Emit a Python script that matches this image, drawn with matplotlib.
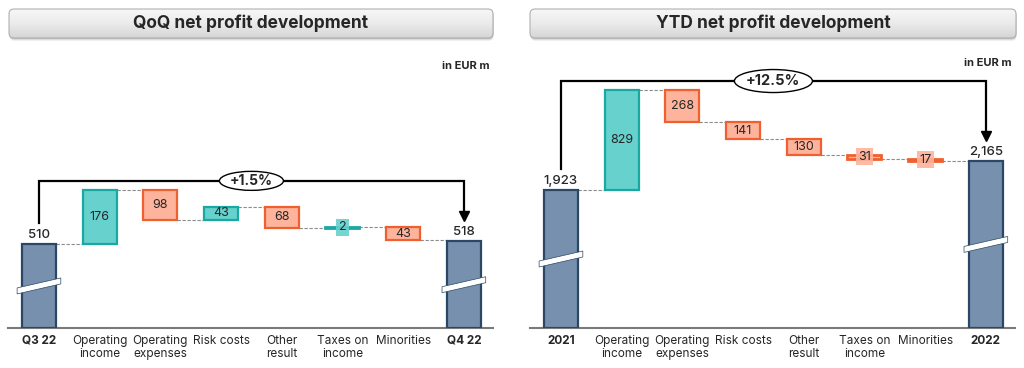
import numpy as np
import matplotlib
matplotlib.use("Agg")
import matplotlib.pyplot as plt
from matplotlib.patches import FancyBboxPatch, Polygon, Ellipse
import matplotlib.transforms as mtransforms

plt.rcParams['font.family'] = ['Inter', 'DejaVu Sans']

# ---------------- data ----------------
qoq_categories = ["Q3 22", "Operating\nincome", "Operating\nexpenses", "Risk costs",
                  "Other\nresult", "Taxes on\nincome", "Minorities", "Q4 22"]
qoq_start = 510
qoq_changes = [176, -98, 43, -68, 2, -43]
qoq_end = 518
qoq_growth = "+1.5%"
qoq_title = "QoQ net profit development"

ytd_categories = ["2021", "Operating\nincome", "Operating\nexpenses", "Risk costs",
                  "Other\nresult", "Taxes on\nincome", "Minorities", "2022"]
ytd_start = 1923
ytd_changes = [829, -268, -141, -130, -31, -17]
ytd_end = 2165
ytd_growth = "+12.5%"
ytd_title = "YTD net profit development"

unit_label = "in EUR m"

# ---------------- style ----------------
TOTAL_FC, TOTAL_EC = "#7690ad", "#2b4766"
POS_FC, POS_EC = "#66d1cd", "#1aa8a2"
NEG_FC, NEG_EC = "#fdb39c", "#f0602e"
TXT = "#262626"

W, H = 1024, 368
fig = plt.figure(figsize=(W / 100, H / 100), dpi=100)
ident = mtransforms.IdentityTransform()


def fmt(v):
    return f"{v:,}"


def title_box(x0, x1, y_top, y_bot, text):
    w, h = x1 - x0, y_bot - y_top
    for off, a in [(3, 0.12), (2, 0.2), (1, 0.3)]:
        sh = FancyBboxPatch((x0 + 0.5, H - y_bot - off), w, h,
                            boxstyle="round,pad=0,rounding_size=5",
                            transform=ident, fc="#8a8a8a", ec="none", alpha=a, zorder=-5)
        fig.patches.append(sh)
    base = FancyBboxPatch((x0, H - y_bot), w, h, boxstyle="round,pad=0,rounding_size=5",
                          transform=ident, fc="#f0f0f0", ec="none", zorder=-4)
    fig.patches.append(base)
    axt = fig.add_axes([x0 / W, 1 - y_bot / H, w / W, h / H])
    axt.set_zorder(1)
    axt.set_axis_off()
    grad = np.linspace(0, 1, 100).reshape(-1, 1)
    cmap = matplotlib.colors.LinearSegmentedColormap.from_list(
        "g", ["#f7f7f7", "#ebebeb", "#d5d5d5"])
    im = axt.imshow(grad, cmap=cmap, aspect="auto", extent=[0, 1, 0, 1], origin="upper",
                    vmin=0, vmax=1)
    axt.set_xlim(0, 1)
    axt.set_ylim(0, 1)
    clip = FancyBboxPatch((x0, H - y_bot), w, h,
                          boxstyle="round,pad=0,rounding_size=5", transform=ident)
    im.set_clip_path(clip)
    edge = FancyBboxPatch((x0, H - y_bot), w, h,
                          boxstyle="round,pad=0,rounding_size=5", transform=ident,
                          fc="none", ec="#b0b0b0", lw=0.8, zorder=5)
    fig.patches.append(edge)
    fig.text((x0 + x1) / 2 / W, 1 - (y_top + y_bot) / 2 / H, text, ha="center", va="center",
             fontsize=12.5, fontweight="bold", color=TXT, zorder=6)


def panel(x0, x1, ylim, cats, start, changes, end, growth, unit_y, gfs, ell_w, ell_h):
    ax = fig.add_axes([x0 / W, (H - 328) / H, (x1 - x0) / W, 268 / H])
    ax.set_xlim(-0.51, 7.48)
    ax.set_ylim(*ylim)
    for s in ["top", "right", "left"]:
        ax.spines[s].set_visible(False)
    ax.spines["bottom"].set_color("#7a7a7a")
    ax.spines["bottom"].set_linewidth(1.5)
    ax.set_yticks([])
    ax.set_xticks(range(len(cats)))
    ax.set_xticklabels(cats, fontsize=8.5, color=TXT, linespacing=1.15)
    ax.tick_params(axis="x", length=0, pad=5)
    for i, lab in enumerate(ax.get_xticklabels()):
        if i in (0, len(cats) - 1):
            lab.set_fontweight("bold")

    fig.canvas.draw()
    bb = ax.get_window_extent()
    ppu = bb.height / (ylim[1] - ylim[0])

    def px(p):
        return p / ppu

    bw = 0.56
    n = len(cats)
    for i, v in [(0, start), (n - 1, end)]:
        ax.bar(i, v - ylim[0], bottom=ylim[0], width=bw, color=TOTAL_FC,
               edgecolor=TOTAL_EC, linewidth=1.6, zorder=3)
        ax.text(i, v + px(3), fmt(v), ha="center", va="bottom", fontsize=9.5,
                color=TXT, fontweight="medium", zorder=6)
        yb = ylim[0] + (v - ylim[0]) * 0.5
        hw = bw / 2 + 0.08
        slope = px(10)
        th = px(6)
        poly = Polygon([[i - hw, yb - slope / 2 - th / 2], [i + hw, yb + slope / 2 - th / 2],
                        [i + hw, yb + slope / 2 + th / 2], [i - hw, yb - slope / 2 + th / 2]],
                       closed=True, fc="white", ec=TOTAL_EC, lw=0.5, zorder=4)
        ax.add_patch(poly)

    level = start
    levels = [start]
    for k, c in enumerate(changes):
        i = k + 1
        lo = min(level, level + c)
        fc, ec = (POS_FC, POS_EC) if c > 0 else (NEG_FC, NEG_EC)
        ax.bar(i, abs(c), bottom=lo, width=bw, color=fc, edgecolor=ec,
               linewidth=1.6 if abs(c) * ppu > 6 else 2.0, zorder=3)
        mid = lo + abs(c) / 2
        if abs(c) * ppu > 8:
            ax.text(i, mid, fmt(abs(c)), ha="center", va="center", fontsize=9,
                    color=TXT, zorder=6)
        else:
            ax.text(i, mid, fmt(abs(c)), ha="center", va="center", fontsize=9,
                    color=TXT, zorder=6,
                    bbox=dict(boxstyle="square,pad=0.2", fc=fc, ec="none", alpha=0.9))
        level += c
        levels.append(level)

    for k in range(n - 1):
        y = levels[k]
        ax.plot([k + bw / 2, k + 1 - bw / 2], [y, y], ls=(0, (3, 1.5)), color="#8c8c8c",
                lw=0.8, zorder=2)

    top = max(levels) + px(9)
    ax.plot([0, 0, n - 1, n - 1], [start + px(21), top, top, end + px(25)],
            color="black", lw=1.6, zorder=5, clip_on=False, solid_joinstyle="miter")
    ax.plot([n - 1], [end + px(25)], marker="v", ms=6.5, color="black", zorder=5,
            clip_on=False)
    cx, cy = ax.transData.transform(((n - 1) / 2, top))
    ell = Ellipse((0, 0), ell_w, ell_h, transform=mtransforms.Affine2D().translate(cx, cy),
                  fc="white", ec="black", lw=1, zorder=6)
    fig.patches.append(ell)
    fig.text(cx / W, cy / H, growth, ha="center", va="center", fontsize=gfs,
             fontweight="bold", color=TXT, zorder=7)

    fig.text((x1 - 3) / W, 1 - unit_y / H, unit_label, ha="right", va="center",
             fontsize=8, fontweight="bold", color=TXT)
    return ax


title_box(9, 493, 9, 38, qoq_title)
title_box(530, 1016, 9, 38, ytd_title)

panel(8, 493, (236, 1109), qoq_categories, qoq_start, qoq_changes, qoq_end, qoq_growth,
      66, 10, 64, 19)
panel(530, 1015, (779, 3001), ytd_categories, ytd_start, ytd_changes, ytd_end, ytd_growth,
      63, 10.5, 78, 23)

fig.savefig("out.png", dpi=100)
